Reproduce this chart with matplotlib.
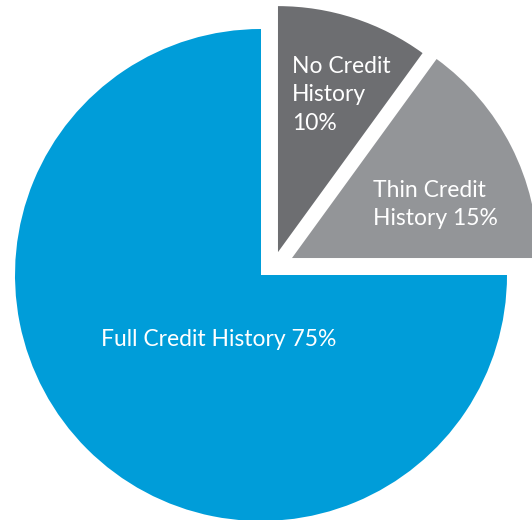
import matplotlib.pyplot as plt

categories = ['No Credit\nHistory\n10%', 'Thin Credit\nHistory 15%', 'Full Credit History 75%']
shares = [10, 15, 75]
colors = ['#6d6e71', '#939598', '#009dd9']

# wedge shifts (data units, radius = 1) and label anchors
shifts = [(0.069, 0.093), (0.126, 0.069), (0.0, 0.0)]
label_pos = [(0.126, 0.732, 'left'), (0.455, 0.287, 'left'), (-0.171, -0.264, 'center')]

fig = plt.figure(figsize=(5.32, 5.20), dpi=100)
ax = fig.add_axes([0, 0, 1, 1])

wedges, _ = ax.pie(shares, colors=colors, startangle=90, counterclock=False,
                   radius=1.0, wedgeprops=dict(linewidth=0))
for w, s in zip(wedges, shifts):
    w.set_center(s)

for name, (x, y, ha) in zip(categories, label_pos):
    ax.text(x, y, name, color='white', fontsize=16.5, family='Lato',
            ha=ha, va='center', multialignment='left', linespacing=1.45)

ax.set_xlim(-261 / 246, 271 / 246)
ax.set_ylim(-245 / 246, 275 / 246)
ax.set_aspect('auto')
ax.axis('off')

fig.savefig('out.png', dpi=100)
